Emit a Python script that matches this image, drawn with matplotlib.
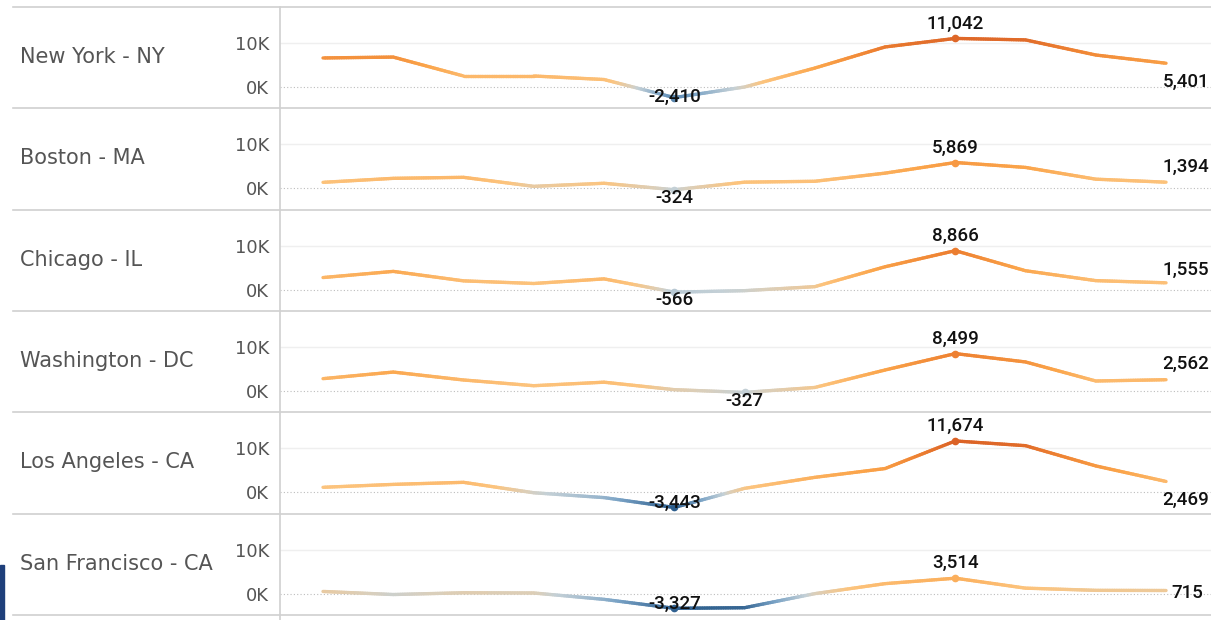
import numpy as np
import matplotlib.pyplot as plt
from matplotlib.collections import LineCollection
from matplotlib.colors import LinearSegmentedColormap, TwoSlopeNorm
from matplotlib.lines import Line2D
from matplotlib.patches import Rectangle

cities = ["New York - NY", "Boston - MA", "Chicago - IL",
          "Washington - DC", "Los Angeles - CA", "San Francisco - CA"]

ny = [6600, 6800, 2500, 2500, 1700, -2410, 0, 4300, 9100, 11042, 10700, 7270, 5401]
bos = [1360, 2270, 2500, 450, 1150, -324, 1400, 1600, 3450, 5869, 4750, 2080, 1394]
chi = [2750, 4150, 2000, 1400, 2450, -566, -230, 680, 5200, 8866, 4300, 2050, 1555]
was = [2800, 4300, 2500, 1200, 2000, 300, -327, 800, 4770, 8499, 6600, 2270, 2562]
la = [1140, 1800, 2270, -100, -1200, -3443, 900, 3400, 5400, 11674, 10600, 6000, 2469]
sf = [500, -200, 200, 150, -1300, -3327, -3200, 0, 2270, 3514, 1250, 750, 715]
series = [ny, bos, chi, was, la, sf]

# where the last-value label sits (pixels above the point, alignment)
last_dy = [-24, 10, 8, 11, -23.5, -7]
last_ha = ["right", "right", "right", "right", "right", "left"]

W, H = 1211, 620
top0, row_h = 7, 101.33
ax_left, ax_right = 280, 1211
ylo, yhi = -4848, 18182

cmap = LinearSegmentedColormap.from_list("orbl", [
    (0.0, "#2c5d8c"), (0.25, "#7aa3c6"), (0.45, "#c4d0d6"), (0.5, "#d9cfbd"),
    (0.55, "#fcc47e"), (0.7, "#fba54b"), (0.85, "#ef8433"), (1.0, "#db6226")])
allv = np.concatenate(series)
norm = TwoSlopeNorm(vmin=allv.min(), vcenter=0, vmax=allv.max())

fig = plt.figure(figsize=(W / 100, H / 100), dpi=100)
fig.patch.set_facecolor("white")

for r, (name, vals) in enumerate(zip(cities, series)):
    vals = np.array(vals, dtype=float)
    x = np.arange(len(vals))
    top = top0 + r * row_h
    ax = fig.add_axes([ax_left / W, 1 - (top + row_h) / H,
                       (ax_right - ax_left) / W, row_h / H])
    ax.set_xlim(-0.612, 12.64)
    ax.set_ylim(ylo, yhi)
    for s in ax.spines.values():
        s.set_visible(False)
    ax.set_xticks([])
    ax.set_yticks([0, 10000])
    ax.set_yticklabels(["0K", "10K"])
    ax.tick_params(axis="y", length=0, pad=8, labelsize=13, labelcolor="#555555")
    ax.axhline(10000, color="#efefef", lw=1, zorder=0)
    ax.axhline(0, color="#bdbdbd", lw=0.8, ls=(0, (1, 2)), zorder=0)

    # gradient line: split each segment so the colour follows the value
    segs, cols = [], []
    for i in range(len(vals) - 1):
        t = np.linspace(0, 1, 31)
        xs = x[i] + t * (x[i + 1] - x[i])
        ys = vals[i] + t * (vals[i + 1] - vals[i])
        for k in range(30):
            segs.append([(xs[k], ys[k]), (xs[k + 1], ys[k + 1])])
            cols.append(cmap(norm((ys[k] + ys[k + 1]) / 2)))
    lc = LineCollection(segs, colors=cols, linewidths=2.4, capstyle="round",
                        joinstyle="round", zorder=2)
    ax.add_collection(lc)

    imax, imin = int(vals.argmax()), int(vals.argmin())
    for i in (imax, imin):
        ax.plot(x[i], vals[i], "o", ms=4.5, color=cmap(norm(vals[i])), zorder=3)

    lab = dict(fontsize=13.5, color="#111111", va="baseline",
               family=["Roboto", "DejaVu Sans"], fontweight="medium",
               textcoords="offset pixels", zorder=4)
    ax.annotate(f"{vals[imax]:,.0f}", (x[imax], vals[imax]), xytext=(0, 10),
                ha="center", **lab)
    dist = (vals[imin] - ylo) / (yhi - ylo) * row_h
    dy = max(dist - 13.5, 6) - dist
    ax.annotate(f"{vals[imin]:,.0f}", (x[imin], vals[imin]), xytext=(0, dy),
                ha="center", **lab)
    if last_ha[r] == "right":
        ax.annotate(f"{vals[-1]:,.0f}", (1.0, vals[-1]),
                    xycoords=("axes fraction", "data"),
                    xytext=(-2, last_dy[r]), ha="right", **lab)
    else:
        ax.annotate(f"{vals[-1]:,.0f}", (x[-1], vals[-1]),
                    xytext=(5, last_dy[r]), ha="left", **lab)

    fig.text(20 / W, 1 - (top + 50) / H, name, fontsize=15, color="#555555",
             ha="left", va="center")

# row dividers and the pane separator
for r in range(7):
    y = 1 - (top0 + r * row_h) / H
    fig.add_artist(Line2D([13 / W, 1], [y, y], color="#d0d0d0", lw=1.2))
fig.add_artist(Line2D([279.5 / W, 279.5 / W], [0, 1 - top0 / H],
                      color="#d0d0d0", lw=1.2))
fig.add_artist(Rectangle((0, 0), 4 / W, 55 / H, color="#1e3f7a",
                         transform=fig.transFigure))

fig.savefig("out.png", dpi=100)
